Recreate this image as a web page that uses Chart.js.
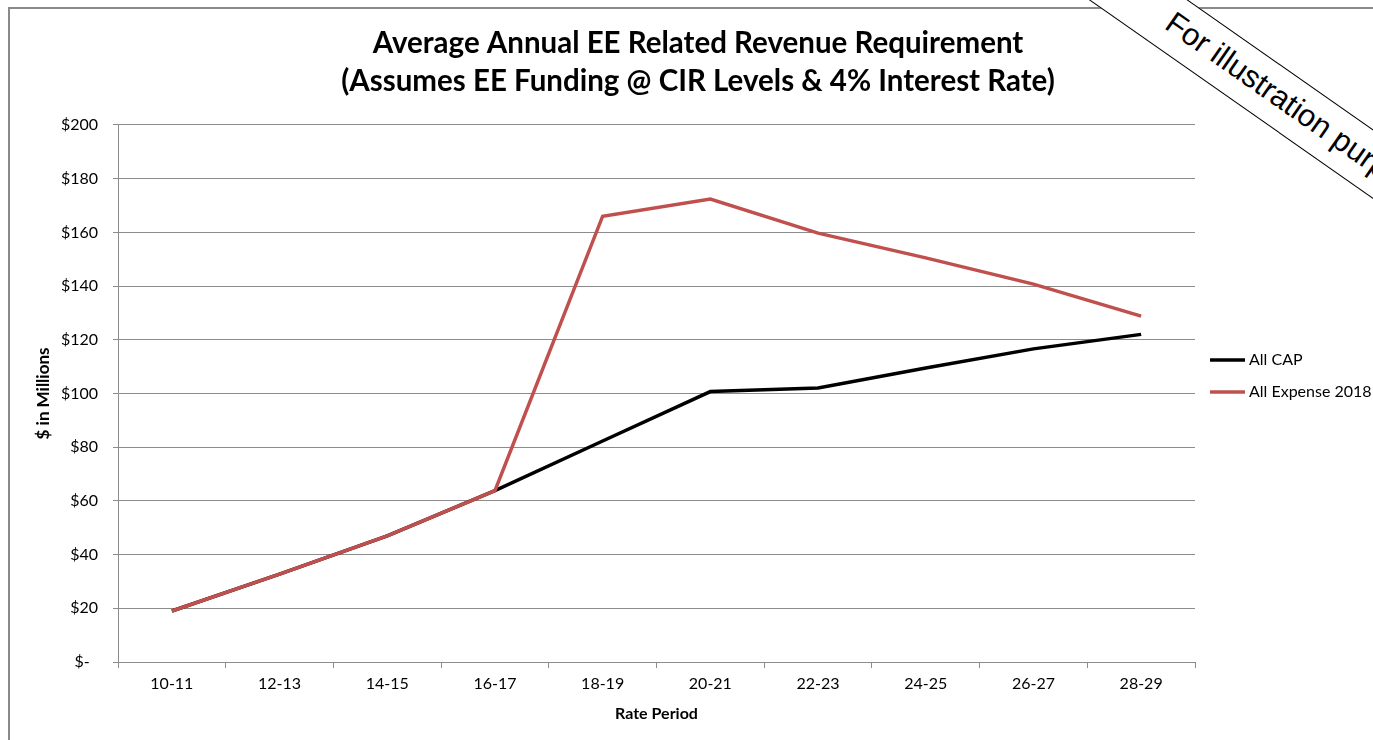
<!DOCTYPE html>
<html>
<head>
<meta charset="utf-8">
<script src="https://cdn.jsdelivr.net/npm/chart.js@4/dist/chart.umd.min.js"></script>
<style>
    html, body { margin: 0; padding: 0; background: #fff; overflow: hidden; }
    #wrap { position: relative; width: 1373px; height: 740px; overflow: hidden; }
    #chart { position: absolute; left: 0; top: 0; }
    #frame {
        position: absolute; left: 8px; top: 7px; width: 2000px; height: 2000px;
        border: 2px solid #8a8a8a;
    }
    #banner {
        position: absolute; left: 1024px; top: -115px; width: 700px; height: 57px;
        background: #fff; border-top: 1.5px solid #000; border-bottom: 1.5px solid #000;
        box-sizing: border-box;
        transform-origin: 0 0; transform: rotate(35deg);
        font-family: "Liberation Sans", Arial, sans-serif; font-size: 31px; color: #000;
    }
    #banner span { position: absolute; left: 196px; top: 8px; white-space: nowrap; }
</style>
</head>
<body>
<div id="wrap">
    <canvas id="chart" width="1373" height="740"></canvas>
    <div id="frame"></div>
    <div id="banner"><span>For illustration purposes only</span></div>
</div>
<script>
const periods = ['10-11', '12-13', '14-15', '16-17', '18-19', '20-21', '22-23', '24-25', '26-27', '28-29'];
const allCap = [19, 32.7, 47, 63.8, 82.3, 100.7, 102, 109.5, 116.6, 122];
const allExpense = [19, 32.7, 47, 63.8, 166, 172.4, 159.7, 150.5, 140.7, 128.8];
const seriesNames = ['All CAP', 'All Expense 2018'];
const seriesColors = ['#000000', '#C0504D'];
const titleLines = ['Average Annual EE Related Revenue Requirement', '(Assumes EE Funding @ CIR Levels & 4% Interest Rate)'];

const gridColor = '#8c8c8c';
const font = 'Lato';

// легенда справа, рисуем сами
const sideLegend = {
    id: 'sideLegend',
    afterDraw(chart) {
        const ctx = chart.ctx;
        ctx.save();
        ctx.font = '16px ' + font;
        ctx.textBaseline = 'middle';
        ctx.textAlign = 'left';
        chart.data.datasets.forEach((ds, i) => {
            const y = 360 + i * 32;
            ctx.strokeStyle = ds.borderColor;
            ctx.lineWidth = 3.5;
            ctx.beginPath();
            ctx.moveTo(1210, y);
            ctx.lineTo(1245, y);
            ctx.stroke();
            ctx.fillStyle = '#000';
            ctx.fillText(ds.label, 1249, y);
        });
        ctx.restore();
    }
};

new Chart(document.getElementById('chart'), {
    type: 'line',
    data: {
        labels: periods,
        datasets: [{
            label: seriesNames[0],
            data: allCap,
            borderColor: seriesColors[0],
            backgroundColor: seriesColors[0],
            borderWidth: 3.5,
            pointRadius: 0,
            tension: 0,
            order: 1,
        }, {
            label: seriesNames[1],
            data: allExpense,
            borderColor: seriesColors[1],
            backgroundColor: seriesColors[1],
            borderWidth: 3.5,
            pointRadius: 0,
            tension: 0,
            order: 0,
        }]
    },
    options: {
        responsive: false,
        animation: false,
        devicePixelRatio: 1,
        layout: { padding: { left: 23, right: 0, top: 0, bottom: 0 } },
        plugins: {
            legend: { display: false },
            tooltip: { enabled: false },
            title: {
                display: true,
                text: titleLines,
                color: '#000',
                font: { family: font, size: 29.5, weight: 'bold', lineHeight: 1.27 },
                padding: { top: 25, bottom: 25 },
            },
        },
        scales: {
            x: {
                offset: true,
                grid: { offset: true, drawOnChartArea: false, drawTicks: true, tickLength: 6, color: gridColor },
                border: { display: true, color: gridColor },
                ticks: { color: '#000', font: { family: font, size: 16 }, padding: 6, maxRotation: 0 },
                title: {
                    display: true, text: 'Rate Period', color: '#000',
                    font: { family: font, size: 16, weight: 'bold', lineHeight: 1.2 },
                    padding: { top: 0, bottom: 17 },
                },
                afterFit(scale) { scale.height = 78; },
            },
            y: {
                min: 0,
                max: 200,
                ticks: {
                    stepSize: 20, color: '#000', font: { family: font, size: 16 }, padding: 15,
                    callback: (v) => v === 0 ? '$-  ' : '$' + v,
                },
                grid: { color: gridColor, tickLength: 5 },
                border: { display: true, color: gridColor },
                title: {
                    display: true, text: '$ in Millions', color: '#000',
                    font: { family: font, size: 17, weight: 'bold', lineHeight: 1.2 },
                    padding: { top: 10, bottom: 0 },
                },
                afterFit(scale) { scale.width = 95; },
            },
            // пустая ось справа — место под легенду
            side: {
                position: 'right',
                display: true,
                grid: { display: false },
                border: { display: false },
                ticks: { display: false },
                afterFit(scale) { scale.width = 178; },
            },
        },
    },
    plugins: [sideLegend],
});
</script>
</body>
</html>
